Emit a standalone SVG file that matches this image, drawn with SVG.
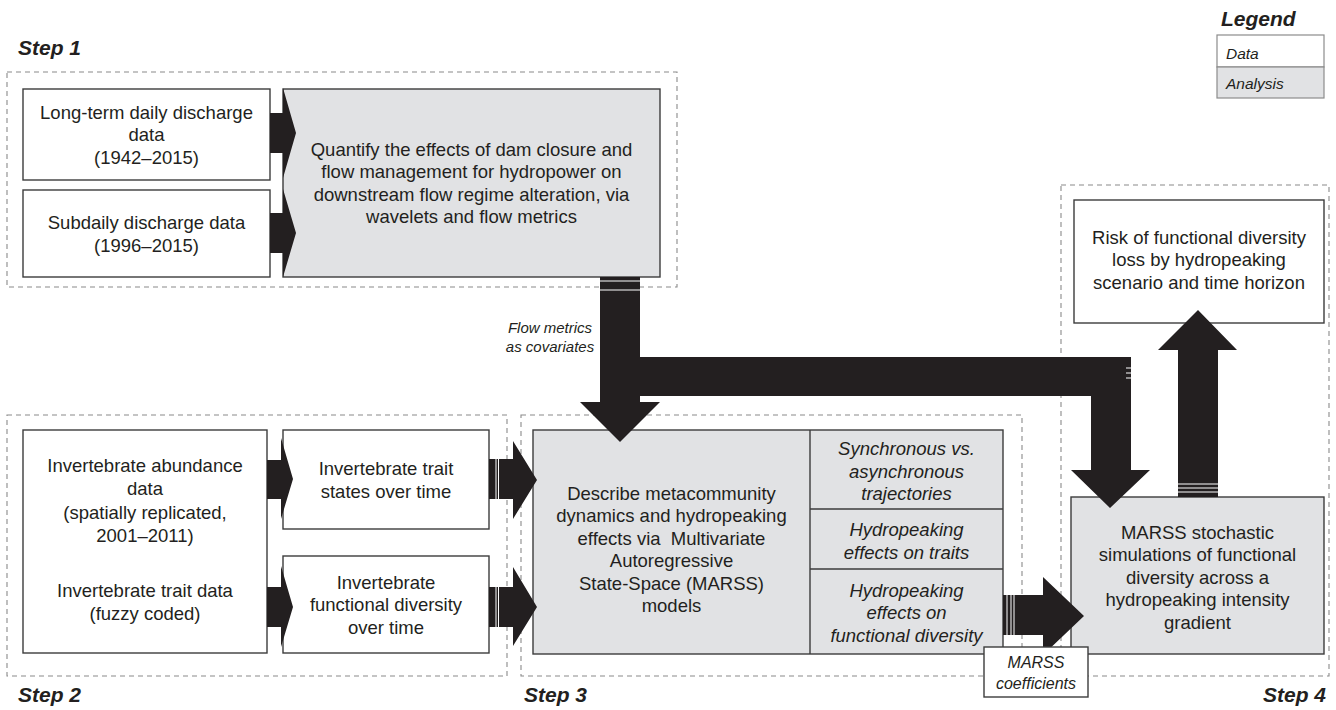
<svg xmlns="http://www.w3.org/2000/svg" width="1336" height="710" viewBox="0 0 1336 710">
<style>
.t{font-family:"Liberation Sans",Arial,sans-serif;font-size:18.5px;fill:#231f20;text-anchor:middle}
.i{font-style:italic}
.sm{font-size:15px}
.mc{font-size:16px}
.step{font-family:"Liberation Sans",Arial,sans-serif;font-size:21px;font-weight:bold;font-style:italic;fill:#231f20}
.data{fill:#fff;stroke:#3c3c3c;stroke-width:1.4}
.ana{fill:#e1e2e4;stroke:#3c3c3c;stroke-width:1.4}
.lg{stroke:#8c8c8c;stroke-width:1.2}
.dash{fill:none;stroke:#8a8a8a;stroke-width:1.1;stroke-dasharray:5 4}
.arr{fill:#231f20}
.str{stroke:#fff;stroke-width:1;fill:none}
.div{stroke:#3c3c3c;stroke-width:1.4;fill:none}
</style>

<g id="legend">
<text class="step" x="1221" y="26">Legend</text>
<rect class="data lg" x="1217" y="35" width="107" height="32"/>
<rect class="ana lg" x="1217" y="67" width="107" height="31"/>
<text class="t i" style="font-size:15.5px;text-anchor:start" x="1226" y="58.5">Data</text>
<text class="t i" style="font-size:15.5px;text-anchor:start" x="1226" y="88.5">Analysis</text>
</g>

<g id="steps">
<rect class="dash" x="7" y="72" width="670" height="215"/>
<rect class="dash" x="7" y="415" width="500" height="261"/>
<rect class="dash" x="521" y="415" width="501" height="261"/>
<rect class="dash" x="1061" y="185" width="268" height="491"/>
<text class="step" x="18" y="55">Step 1</text>
<text class="step" x="18" y="702">Step 2</text>
<text class="step" x="524" y="702">Step 3</text>
<text class="step" x="1326" y="702" text-anchor="end">Step 4</text>
</g>

<g id="longterm">
<rect class="data" x="23" y="89" width="247" height="91"/>
<text class="t" x="146.5" y="118.5">Long-term daily discharge</text>
<text class="t" x="146.5" y="141">data</text>
<text class="t" x="146.5" y="163.5">(1942–2015)</text>
</g>
<g id="subdaily">
<rect class="data" x="23" y="190" width="247" height="87"/>
<text class="t" x="146.5" y="228.5">Subdaily discharge data</text>
<text class="t" x="146.5" y="251.5">(1996–2015)</text>
</g>
<g id="quantify">
<rect class="ana" x="283" y="89" width="377" height="188"/>
<text class="t" x="471.5" y="155.5">Quantify the effects of dam closure and</text>
<text class="t" x="471.5" y="178">flow management for hydropower on</text>
<text class="t" x="471.5" y="200.5">downstream flow regime alteration, via</text>
<text class="t" x="471.5" y="223">wavelets and flow metrics</text>
</g>

<g id="abundance">
<rect class="data" x="23" y="430" width="244" height="223"/>
<text class="t" x="145" y="471.5">Invertebrate abundance</text>
<text class="t" x="145" y="495">data</text>
<text class="t" x="145" y="518.5">(spatially replicated,</text>
<text class="t" x="145" y="542">2001–2011)</text>
<text class="t" x="145" y="596.5">Invertebrate trait data</text>
<text class="t" x="145" y="619.5">(fuzzy coded)</text>
</g>
<g id="traitstates">
<rect class="data" x="283" y="430" width="206" height="99"/>
<text class="t" x="386" y="474.5">Invertebrate trait</text>
<text class="t" x="386" y="497.5">states over time</text>
</g>
<g id="funcdiv">
<rect class="data" x="283" y="556" width="206" height="97"/>
<text class="t" x="386" y="588.5">Invertebrate</text>
<text class="t" x="386" y="611">functional diversity</text>
<text class="t" x="386" y="633.5">over time</text>
</g>

<g id="describe">
<rect class="ana" x="533" y="430" width="470" height="224"/>
<path class="div" d="M810,430 V654 M810,509 H1003 M810,569 H1003"/>
<text class="t" x="671.5" y="499.5">Describe metacommunity</text>
<text class="t" x="671.5" y="522">dynamics and hydropeaking</text>
<text class="t" x="671.5" y="544.5">effects via&#160; Multivariate</text>
<text class="t" x="671.5" y="567">Autoregressive</text>
<text class="t" x="671.5" y="589.5">State-Space (MARSS)</text>
<text class="t" x="671.5" y="612">models</text>
</g>
<g id="sync">
<text class="t i" x="906.5" y="454.5">Synchronous vs.</text>
<text class="t i" x="906.5" y="477.5">asynchronous</text>
<text class="t i" x="906.5" y="499.5">trajectories</text>
</g>
<g id="traits">
<text class="t i" x="906.5" y="535.5">Hydropeaking</text>
<text class="t i" x="906.5" y="558.5">effects on traits</text>
</g>
<g id="fdeffects">
<text class="t i" x="906.5" y="596.5">Hydropeaking</text>
<text class="t i" x="906.5" y="618.5">effects on</text>
<text class="t i" x="906.5" y="641.5">functional diversity</text>
</g>

<g id="marss">
<rect class="ana" x="1071" y="497" width="253" height="157"/>
<text class="t" x="1197.5" y="538.5">MARSS stochastic</text>
<text class="t" x="1197.5" y="561">simulations of functional</text>
<text class="t" x="1197.5" y="583.5">diversity across a</text>
<text class="t" x="1197.5" y="606">hydropeaking intensity</text>
<text class="t" x="1197.5" y="628.5">gradient</text>
</g>
<g id="risk">
<rect class="data" x="1074" y="200" width="250" height="123"/>
<text class="t" x="1199" y="243.5">Risk of functional diversity</text>
<text class="t" x="1199" y="266">loss by hydropeaking</text>
<text class="t" x="1199" y="288.5">scenario and time horizon</text>
</g>

<g id="connectors">
<path class="arr" d="M270,113 H283 V88 L296,133 L283,178 V153 H270 Z"/>
<path class="arr" d="M270,213 H283 V189 L296,233 L283,277 V253 H270 Z"/>
<path class="arr" d="M267,460 H281 V438 L293,479 L281,519 V499 H267 Z"/>
<path class="arr" d="M267,587 H281 V566 L293,607 L281,647 V627 H267 Z"/>
<path class="arr" d="M489,459 H513 V441 L537,480 L513,519 V499 H489 Z"/>
<path class="arr" d="M489,587 H513 V567 L537,607 L513,646 V627 H489 Z"/>
<path class="str" d="M496,459 V499 M498.5,459 V499 M496,587 V627 M498.5,587 V627"/>
<path class="arr" d="M600,277 H640 V357 H1131 V470 H1150 L1110,508 L1071,470 H1091 V396 H640 V402 H660 L620,442 L580,402 H600 Z"/>
<path class="str" d="M600,281 H640 M600,290 H640 M1126,368 H1131 M1126,373 H1131 M1126,378 H1131"/>
<path class="arr" d="M1178,497 V350 H1158 L1198,310 L1237,350 H1218 V497 Z"/>
<path class="str" d="M1178,484 H1218 M1178,488 H1218 M1178,492 H1218"/>
<path class="arr" d="M1003,595 H1043 V577 L1084,616 L1043,655 V635 H1003 Z"/>
<path class="str" d="M1007,595 V635 M1011,595 V635 M1014,595 V635"/>
<text class="t i sm" x="550" y="333">Flow metrics</text>
<text class="t i sm" x="550" y="352">as covariates</text>
</g>

<g id="coefficients">
<rect class="data" x="984" y="647" width="104" height="50"/>
<text class="t i mc" x="1036" y="668">MARSS</text>
<text class="t i mc" x="1036" y="689">coefficients</text>
</g>
</svg>
